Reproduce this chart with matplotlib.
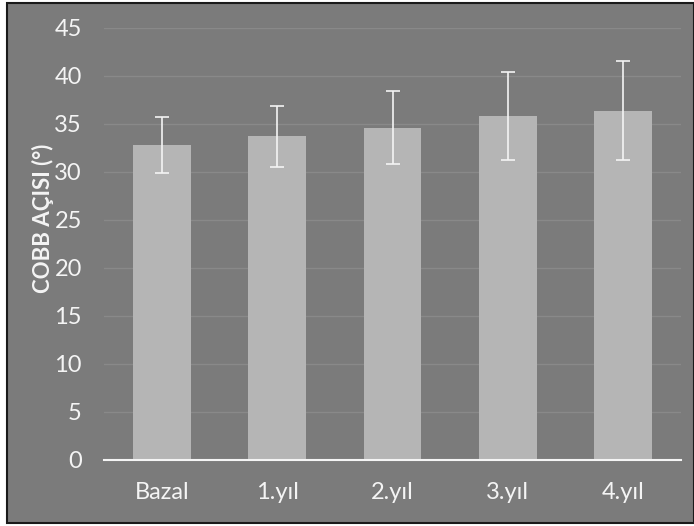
import matplotlib
matplotlib.use("Agg")
import matplotlib.pyplot as plt
from matplotlib.patches import Rectangle

# mean Cobb angle and standard deviation per visit
categories = ["Bazal", "1.yıl", "2.yıl", "3.yıl", "4.yıl"]
means = [32.8, 33.7, 34.6, 35.8, 36.4]
sds = [2.9, 3.2, 3.8, 4.6, 5.2]
y_ticks = [0, 5, 10, 15, 20, 25, 30, 35, 40, 45]

bg = "#7b7b7b"
bar_color = "#b5b5b5"
text_color = "#f4f4f4"

plt.rcParams["font.family"] = ["Lato", "DejaVu Sans"]

fig = plt.figure(figsize=(6.94, 5.26), dpi=100)
fig.patch.set_facecolor("white")

# dark panel with a thin black frame, kept behind the axes
fig.patches.append(Rectangle((7 / 694, 3 / 526), 1 - 7 / 694, 1 - 6 / 526,
                             transform=fig.transFigure, facecolor=bg,
                             edgecolor="#1a1a1a", linewidth=1.5, zorder=-10))

ax = fig.add_axes([104 / 694, 66 / 526, 577 / 694, 432 / 526])
ax.set_facecolor("none")
ax.set_zorder(5)

x = range(len(categories))
ax.bar(x, means, width=0.5, color=bar_color, zorder=2)
ax.errorbar(x, means, yerr=sds, fmt="none", ecolor=text_color,
            elinewidth=1.2, capsize=5, capthick=1.2, zorder=3)

ax.set_xlim(-0.5, len(categories) - 0.5)
ax.set_ylim(0, 45)
ax.set_yticks(y_ticks)
ax.set_xticks(list(x))
ax.set_xticklabels(categories)
ax.grid(axis="y", color="#898989", linewidth=1, zorder=1)
ax.set_axisbelow(True)

for side in ["top", "right", "left"]:
    ax.spines[side].set_visible(False)
ax.spines["bottom"].set_color(text_color)
ax.spines["bottom"].set_linewidth(1.5)
ax.spines["bottom"].set_zorder(4)

ax.tick_params(axis="both", length=0, colors=text_color, labelsize=17)
ax.tick_params(axis="y", pad=16)
ax.tick_params(axis="x", pad=16)

ax.set_ylabel("COBB AÇISI (°)", color=text_color, fontsize=16,
              fontweight="bold")
ax.yaxis.set_label_coords(-0.087, 0.56)

fig.savefig("out.png", dpi=100, facecolor=fig.get_facecolor())
